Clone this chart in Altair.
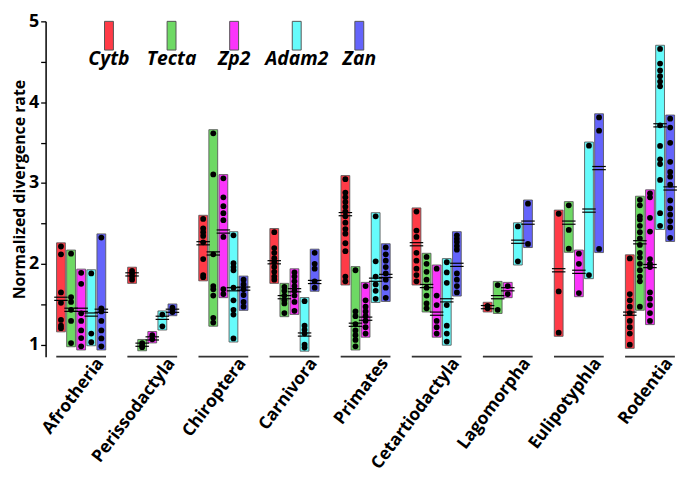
import altair as alt
import pandas as pd

GROUPS = ["Afrotheria", "Perissodactyla", "Chiroptera", "Carnivora", "Primates",
          "Cetartiodactyla", "Lagomorpha", "Eulipotyphla", "Rodentia"]
GENES = ["Cytb", "Tecta", "Zp2", "Adam2", "Zan"]
COLORS = ["#ff3b47", "#6ed964", "#fb35fb", "#66fbfb", "#6464fb"]

CYTB = [
    [2.215, 2.118, 1.647, 1.518, 1.306, 1.235, 1.204],
    [1.914, 1.882, 1.843, 1.804],
    [2.556, 2.439, 2.392, 2.345, 2.267, 2.059, 1.862, 1.835],
    [2.392, 2.196, 2.137, 2.071, 2.02, 1.961, 1.902, 1.843, 1.804],
    [3.047, 2.882, 2.824, 2.765, 2.706, 2.647, 2.588, 2.509, 2.431, 2.373, 2.255, 2.157, 1.843, 1.784],
    [2.647, 2.412, 2.333, 2.137, 2.039, 1.941, 1.862, 1.784],
    [1.48, 1.45],
    [2.62, 1.659, 1.149],
    [2.067, 1.627, 1.549, 1.47, 1.392, 1.294, 1.216, 1.138, 1.0],
]
MEAN_CYTB = [1.568, 1.87, 2.255, 2.02, 2.615, 2.243, 1.465, 1.921, 1.384]

TECTA = [
    [2.126, 1.588, 1.529, 1.432, 1.294, 1.02],
    [1.02, 0.99, 0.97],
    [3.615, 3.106, 2.118, 1.726, 1.686, 1.608, 1.333, 1.274],
    [1.714, 1.667, 1.608, 1.549, 1.51, 1.392],
    [1.921, 1.412, 1.353, 1.255, 1.176, 1.118, 1.059, 0.98],
    [2.086, 2.0, 1.902, 1.804, 1.706, 1.608, 1.51, 1.45],
    [1.738, 1.432],
    [2.725, 2.42, 2.188],
    [2.792, 2.725, 2.588, 2.549, 2.471, 2.392, 2.314, 2.235, 2.137, 2.078, 2.0, 1.922, 1.843, 1.784, 1.471],
]
MEAN_TECTA = [1.432, 1.0, 2.129, 1.588, 1.247, 1.726, 1.588, 2.51, 2.267]

ZP2 = [
    [1.89, 1.753, 1.388, 1.294, 1.176, 1.082, 0.98],
    [1.118, 1.067],
    [3.059, 2.824, 2.714, 2.627, 2.541, 2.333, 1.686, 1.627],
    [1.894, 1.843, 1.784, 1.726, 1.667, 1.608, 1.529, 1.42],
    [1.726, 1.549, 1.47, 1.412, 1.353, 1.294, 1.216, 1.138],
    [1.941, 1.608, 1.49, 1.294, 1.216, 1.138],
    [1.726, 1.627],
    [2.126, 2.0, 1.639],
    [2.871, 2.824, 2.569, 2.4, 2.059, 2.0, 1.961, 1.647, 1.569, 1.49, 1.392, 1.294],
]
MEAN_ZP2 = [1.432, 1.078, 2.4, 1.674, 1.322, 1.384, 1.686, 1.902, 1.973]

ADAM2 = [
    [1.882, 1.138, 1.032],
    [1.373, 1.227],
    [2.353, 2.008, 1.961, 1.921, 1.706, 1.549, 1.432, 1.373, 1.078],
    [1.538, 1.235, 1.184, 1.138, 1.0, 0.965],
    [2.588, 2.031, 1.843, 1.745, 1.667, 1.568],
    [2.02, 1.894, 1.765, 1.49, 1.235, 1.138, 1.039],
    [2.463, 2.031],
    [3.462, 1.862],
    [4.659, 4.478, 4.392, 4.322, 4.255, 4.196, 3.714, 3.459, 3.294, 3.235, 3.039, 2.627, 2.471],
]
MEAN_ADAM2 = [1.373, 1.333, 1.686, 1.126, 1.804, 1.549, 2.274, 2.659, 3.714]

ZAN = [
    [2.326, 1.45, 1.412, 1.294, 1.176, 1.078, 0.98],
    [1.459, 1.432, 1.404],
    [1.804, 1.745, 1.686, 1.615, 1.529, 1.47],
    [2.137, 2.0, 1.941, 1.784, 1.706],
    [2.204, 2.118, 2.039, 1.961, 1.882, 1.804, 1.706, 1.58],
    [2.353, 2.31, 2.27, 2.22, 2.176, 1.882, 1.804, 1.726, 1.647],
    [2.745, 2.247],
    [3.812, 3.647, 2.185],
    [3.796, 3.686, 3.498, 3.263, 3.137, 3.078, 2.98, 2.784, 2.686, 2.608, 2.529, 2.451, 2.322],
]
MEAN_ZAN = [1.42, 1.42, 1.694, 1.776, 1.851, 1.988, 2.51, 3.185, 2.933]

VALUES = [CYTB, TECTA, ZP2, ADAM2, ZAN]
MEANS = [MEAN_CYTB, MEAN_TECTA, MEAN_ZP2, MEAN_ADAM2, MEAN_ZAN]

STEP = 0.142     # gene spacing within a group (x units)
HALF_BAR = 0.062
HALF_MEAN = 0.095
PAD = 0.045

dots, bars = [], []
for gi, gene in enumerate(GENES):
    for ci, grp in enumerate(GROUPS):
        pos = ci + (gi - 2) * STEP
        vals = VALUES[gi][ci]
        for v in vals:
            dots.append({"group": grp, "gene": gene, "pos": pos, "value": v})
        bars.append({"group": grp, "gene": gene, "pos": pos,
                     "lo": min(vals) - PAD, "hi": max(vals) + PAD,
                     "mean": MEANS[gi][ci]})
dots = pd.DataFrame(dots)
bars = pd.DataFrame(bars)
bars["x1"] = bars["pos"] - HALF_BAR
bars["x2"] = bars["pos"] + HALF_BAR
bars["m1"] = bars["pos"] - HALF_MEAN
bars["m2"] = bars["pos"] + HALF_MEAN

under = pd.DataFrame({"group": GROUPS, "idx": list(range(len(GROUPS)))})
under["a"] = under["idx"] - 0.35
under["b"] = under["idx"] + 0.35
under["y"] = 0.853

legend = pd.DataFrame({"gene": GENES})

FONT = "Open Sans"
W, H = 638, 339
xscale = alt.Scale(domain=[-0.50, 8.38], nice=False, zero=False)
yscale = alt.Scale(domain=[0.85, 5], nice=False, zero=False)
color = alt.Color("gene:N", scale=alt.Scale(domain=GENES, range=COLORS), legend=None)

label_expr = "[" + ",".join("'%s'" % g for g in GROUPS) + "][datum.value]"

x_axis = alt.Axis(values=list(range(9)), labelExpr=label_expr, labelAngle=-53,
                  labelAlign="right", labelBaseline="middle", labelOffset=19,
                  labelPadding=3, labelFont=FONT, labelFontWeight="bold",
                  labelFontSize=17.5, labelColor="black", domain=False, ticks=False,
                  grid=False, title=None, labelOverlap=False, labelBound=False)
y_axis = alt.Axis(values=[1, 1.5, 2, 2.5, 3, 3.5, 4, 4.5, 5],
                  labelExpr="datum.value % 1 == 0 ? format(datum.value, 'd') : ''",
                  tickSize=5, tickColor="black", tickWidth=1.3, domainColor="black",
                  domainWidth=1.5, labelFont=FONT, labelFontWeight="bold",
                  labelFontSize=18, labelColor="black", labelPadding=2, grid=False,
                  title="Normalized divergence rate", titleFont=FONT,
                  titleFontWeight="bold", titleFontSize=16, titleColor="black",
                  titlePadding=1)

base_bars = alt.Chart(bars)
rects = base_bars.mark_rect(stroke="#555555", strokeWidth=1, strokeOpacity=0.85).encode(
    x=alt.X("x1:Q", scale=xscale, axis=x_axis),
    x2="x2:Q",
    y=alt.Y("lo:Q", scale=yscale, axis=y_axis),
    y2="hi:Q",
    color=color,
)
pts = alt.Chart(dots).mark_circle(size=34, color="black", opacity=1).encode(
    x=alt.X("pos:Q", scale=xscale),
    y=alt.Y("value:Q", scale=yscale),
)
mean_a = base_bars.mark_rule(color="black", strokeWidth=1.2, yOffset=-1.6).encode(
    x=alt.X("m1:Q", scale=xscale), x2="m2:Q", y=alt.Y("mean:Q", scale=yscale))
mean_b = base_bars.mark_rule(color="black", strokeWidth=1.2, yOffset=1.6).encode(
    x=alt.X("m1:Q", scale=xscale), x2="m2:Q", y=alt.Y("mean:Q", scale=yscale))
lines = alt.Chart(under).mark_rule(color="#333333", strokeWidth=1.6).encode(
    x=alt.X("a:Q", scale=xscale), x2="b:Q", y=alt.Y("y:Q", scale=yscale))

main = alt.layer(rects, pts, mean_a, mean_b, lines)

# legend: 5 bands whose centres sit at 64..317 px of the plot area
lx = alt.X("gene:N", scale=alt.Scale(domain=GENES, range=[32.4, 348.6],
                                     paddingInner=0, paddingOuter=0), axis=None)
leg_rect = alt.Chart(legend).mark_bar(size=9, stroke="#555555", strokeWidth=1).encode(
    x=lx, y=alt.value(0), y2=alt.value(29), color=color)
leg_text = alt.Chart(legend).mark_text(font=FONT, fontWeight="bold", fontStyle="italic",
                                       fontSize=19.5, baseline="middle", align="center",
                                       color="black").encode(
    x=lx, y=alt.value(38), text="gene:N")
leg = alt.layer(leg_rect, leg_text)

chart = alt.layer(main, leg).resolve_scale(x="independent").properties(
    width=W, height=H,
    autosize=alt.AutoSizeParams(type="none"),
    padding={"left": 38, "top": 11, "right": 0, "bottom": 126},
).configure_view(stroke=None)

chart.save("out.html", embed_options={"renderer": "svg", "actions": False})
